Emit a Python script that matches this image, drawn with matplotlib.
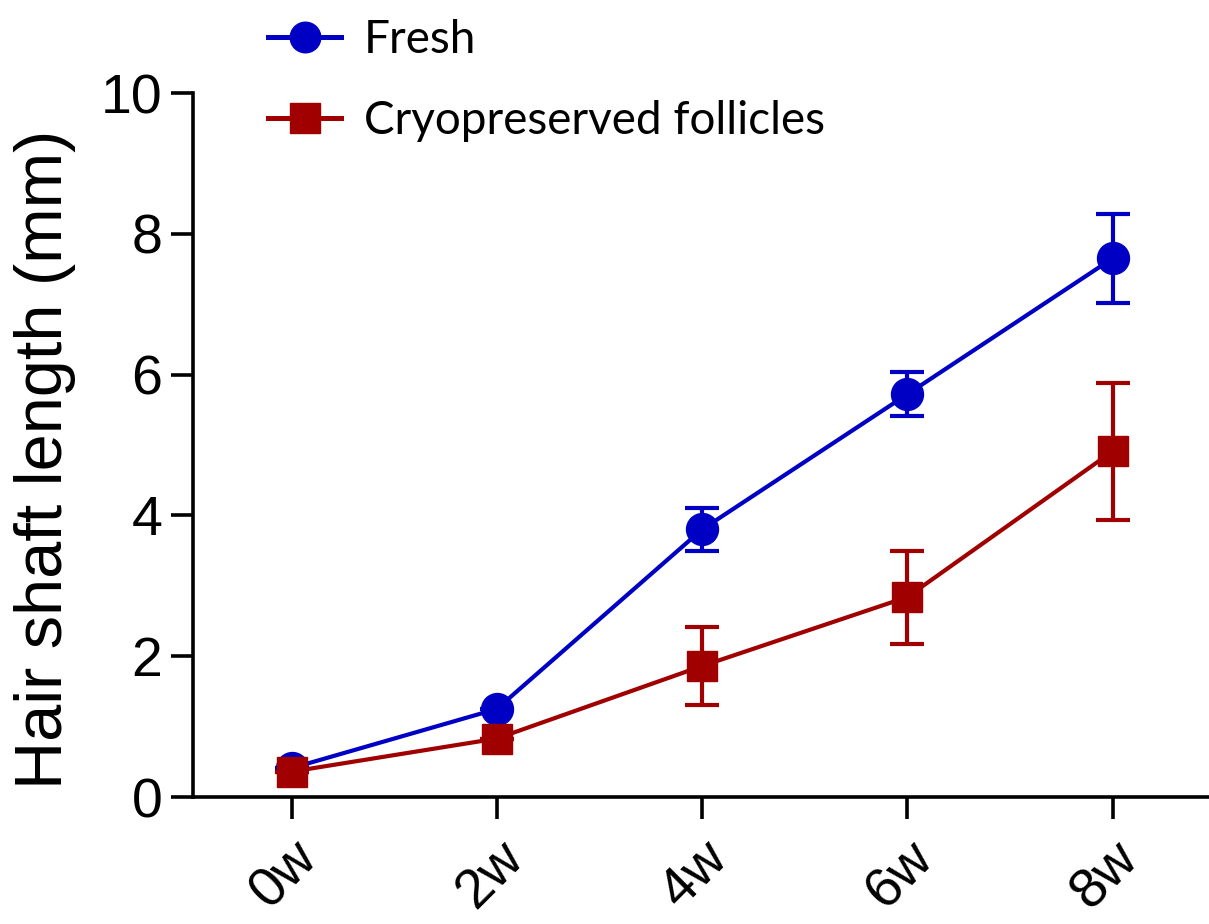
import matplotlib.pyplot as plt
from matplotlib.lines import Line2D

weeks = ["0w", "2w", "4w", "6w", "8w"]
fresh = [0.41, 1.25, 3.80, 5.72, 7.65]
fresh_err = [0.0, 0.0, 0.30, 0.31, 0.63]
cryo = [0.36, 0.83, 1.86, 2.84, 4.91]
cryo_err = [0.0, 0.0, 0.55, 0.66, 0.97]

blue = "#0000C4"
red = "#A00000"

fig = plt.figure(figsize=(12.09, 9.24), dpi=100)
ax = fig.add_axes([193 / 1209, 127 / 924, 1016 / 1209, 704 / 924])

x = list(range(len(weeks)))
ax.errorbar(x, fresh, yerr=fresh_err, color=blue, marker="o", markersize=23,
            linewidth=3, elinewidth=3, capsize=12, capthick=3, zorder=3)
ax.errorbar(x, cryo, yerr=cryo_err, color=red, marker="s", markersize=22,
            linewidth=3, elinewidth=3, capsize=12, capthick=3, zorder=4)

ax.set_xlim(-0.48, 4.47)
ax.set_ylim(0, 10)
ax.set_yticks([0, 2, 4, 6, 8, 10])
ax.set_xticks(x)
ax.set_xticklabels(weeks, rotation=45, ha="right", rotation_mode="anchor",
                   fontsize=40, family="Liberation Sans")
for lab in ax.get_yticklabels():
    lab.set_fontsize(40)
    lab.set_family("Liberation Sans")

ax.spines["top"].set_visible(False)
ax.spines["right"].set_visible(False)
ax.spines["left"].set_linewidth(2.6)
ax.spines["bottom"].set_linewidth(2.6)
ax.tick_params(axis="y", length=16, width=2.6, pad=6)
ax.tick_params(axis="x", length=16, width=2.6, pad=9)

ax.set_ylabel("Hair shaft length (mm)", fontsize=48, family="Liberation Sans")
ax.yaxis.set_label_coords(-0.115, 0.479)

handles = [
    Line2D([], [], color=blue, marker="o", markersize=22, linewidth=3.6),
    Line2D([], [], color=red, marker="s", markersize=22, linewidth=3.6),
]
fig.legend(handles, ["Fresh", "Cryopreserved follicles"], loc="upper left",
           bbox_to_anchor=(268 / 1209, 1 - 19 / 924), frameon=False, borderpad=0,
           borderaxespad=0, prop={"family": "Lato", "size": 33},
           handlelength=1.6, labelspacing=0.85, handletextpad=0.5)

fig.savefig("out.png", dpi=100)
